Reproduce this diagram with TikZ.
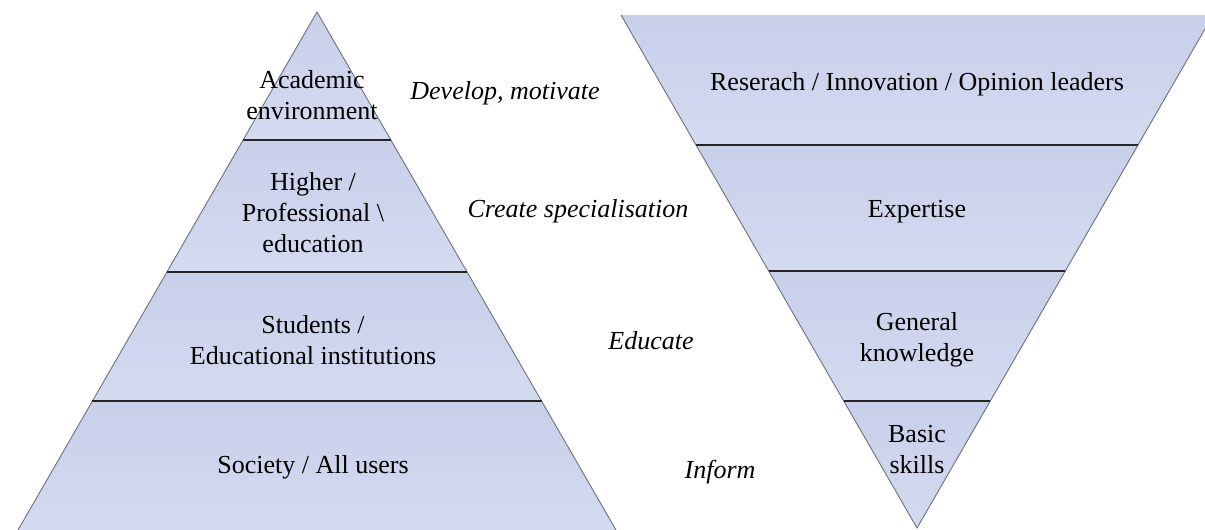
\documentclass[tikz,border=0pt]{standalone}
\usepackage{fontspec}
\setmainfont{Liberation Serif}
\usetikzlibrary{positioning}
\definecolor{bandtop}{RGB}{200,207,233}
\definecolor{bandbot}{RGB}{212,218,239}
\definecolor{rim}{RGB}{110,112,125}

\begin{document}
\begin{tikzpicture}[x=0.5pt, y=-0.5pt, font=\fontsize{13}{15.5}\selectfont,
  layer/.style={align=center, inner sep=0pt},
  cue/.style={inner sep=0pt, font=\fontsize{13}{15.5}\selectfont\itshape},
  band/.style={top color=bandtop, bottom color=bandbot},
  sep/.style={draw=black!85, line width=0.7pt},
  side/.style={draw=rim, line width=0.45pt}]
  \useasboundingbox (0,0) rectangle (1205,530);

  \coordinate (lt) at (317,12);
  \coordinate (lbl) at (18,530);
  \coordinate (lbr) at (616,530);
  \coordinate (rtl) at (621,15);
  \coordinate (rtr) at (1213,15);
  \coordinate (rb) at (917,528);

  \begin{scope}
    \clip (lt) -- (lbl) -- (lbr) -- cycle;
    \foreach \a/\b in {12/140,140/272,272/401,401/530}
      \shade[band] (0,\a) rectangle (640,\b);
  \end{scope}
  \begin{scope}
    \clip (rtl) -- (rtr) -- (rb) -- cycle;
    \foreach \a/\b in {15/145,145/271,271/401,401/528}
      \shade[band] (600,\a) rectangle (1220,\b);
  \end{scope}

  \draw[side] (lbl) -- (lt) -- (lbr);
  \draw[side] (rtl) -- (rb) -- (rtr);

  \foreach \y/\w in {140/74,272/150,401/225}
    \draw[sep] (317-\w,\y) -- (317+\w,\y);
  \foreach \y/\w in {145/221,271/148,401/73}
    \draw[sep] (917-\w,\y) -- (917+\w,\y);

  \node[layer] (acad) at (312,95) {Academic\\environment};
  \node[layer] (higher) at (313,213) {Higher /\\Professional \textbackslash\\education};
  \node[layer] (students) at (313,340) {Students /\\Educational institutions};
  \node[layer] (society) at (313,467) {Society / All users};

  \node[cue] (dev) at (505,93) {Develop, motivate};
  \node[cue] (spec) at (578,211) {Create specialisation};
  \node[cue] (edu) at (651,341) {Educate};
  \node[cue] (inf) at (720,472) {Inform};

  \node[layer] (research) at (917,84) {Reserach / Innovation / Opinion leaders};
  \node[layer] (expert) at (917,212) {Expertise};
  \node[layer] (general) at (917,340) {General\\knowledge};
  \node[layer] (basic) at (917,450) {Basic\\skills};
\end{tikzpicture}
\end{document}
